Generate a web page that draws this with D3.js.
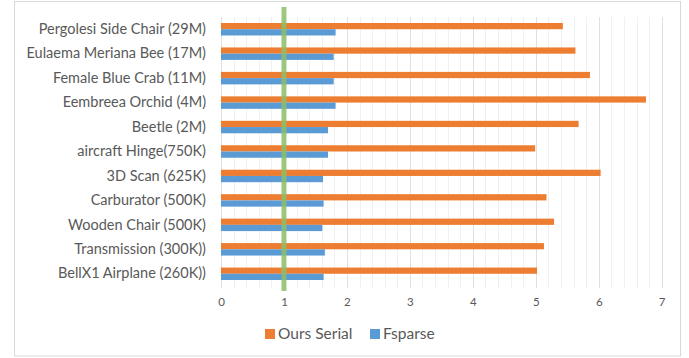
<!DOCTYPE html>
<html>
<head>
<meta charset="utf-8">
<script src="https://cdn.jsdelivr.net/npm/d3@7/dist/d3.min.js"></script>
<style>
  html, body { margin: 0; padding: 0; background: #fff; }
  svg { display: block; }
</style>
</head>
<body>
<svg id="chart" width="689" height="358"></svg>
<script>
// Models, top to bottom
const categories = [
  "Pergolesi Side Chair (29M)",
  "Eulaema Meriana Bee (17M)",
  "Female Blue Crab (11M)",
  "Eembreea Orchid (4M)",
  "Beetle (2M)",
  "aircraft Hinge(750K)",
  "3D Scan (625K)",
  "Carburator (500K)",
  "Wooden Chair (500K)",
  "Transmission (300K))",
  "BellX1 Airplane (260K))"
];
const seriesNames = ["Ours Serial", "Fsparse"];
const oursSerial = [5.43, 5.63, 5.86, 6.75, 5.68, 4.99, 6.03, 5.17, 5.29, 5.13, 5.02];
const fsparse    = [1.82, 1.79, 1.79, 1.82, 1.70, 1.70, 1.62, 1.63, 1.61, 1.65, 1.63];
const xTicks = [0, 1, 2, 3, 4, 5, 6, 7];
const baseline = 1;

const colors = { "Ours Serial": "#ED7D31", "Fsparse": "#5B9BD5" };
const textColor = "#595959";
const font = "Lato, 'Open Sans', sans-serif";

const svg = d3.select("#chart");

// chart frame
svg.append("rect")
  .attr("x", 14.5).attr("y", 1.5)
  .attr("width", 666).attr("height", 354.5)
  .attr("fill", "#fff").attr("stroke", "#d9d9d9").attr("stroke-width", 1);

const plot = { left: 221, right: 661.7, top: 17, bottom: 286 };

const x = d3.scaleLinear().domain([0, 7]).range([plot.left, plot.right]);
const y = d3.scaleBand().domain(categories)
  .range([plot.top, plot.bottom])
  .paddingInner(0.49).paddingOuter(0.245);
const ySub = d3.scaleBand().domain(seriesNames).range([0, y.bandwidth()]);

// minor gridlines
const minor = d3.range(0, 7.0001, 0.2).filter(v => Math.abs(v - Math.round(v)) > 1e-6);
svg.append("g").selectAll("line").data(minor).join("line")
  .attr("x1", d => Math.round(x(d)) + 0.5).attr("x2", d => Math.round(x(d)) + 0.5)
  .attr("y1", plot.top).attr("y2", plot.bottom + 2)
  .attr("stroke", "#f0f0f0").attr("stroke-width", 1);

// major gridlines
svg.append("g").selectAll("line").data(xTicks).join("line")
  .attr("x1", d => Math.round(x(d)) + 0.5).attr("x2", d => Math.round(x(d)) + 0.5)
  .attr("y1", plot.top).attr("y2", plot.bottom + 2)
  .attr("stroke", "#e0e0e0").attr("stroke-width", 1);

// bars
const rows = categories.map((c, i) => ({ c, vals: [
  { s: "Ours Serial", v: oursSerial[i] },
  { s: "Fsparse", v: fsparse[i] }
]}));
const g = svg.append("g").selectAll("g").data(rows).join("g")
  .attr("transform", d => `translate(0,${y(d.c)})`);
g.selectAll("rect").data(d => d.vals).join("rect")
  .attr("x", x(0))
  .attr("y", d => ySub(d.s))
  .attr("width", d => x(d.v) - x(0))
  .attr("height", ySub.bandwidth())
  .attr("fill", d => colors[d.s]);

// x axis
const xAxis = svg.append("g")
  .attr("transform", `translate(0,${plot.bottom})`)
  .call(d3.axisBottom(x).tickValues(xTicks).tickFormat(d3.format("d")).tickSize(0).tickPadding(12));
xAxis.select(".domain").remove();
xAxis.selectAll("text").attr("fill", textColor).style("font-family", font).style("font-size", "11.5px");

// y axis
const yAxis = svg.append("g")
  .attr("transform", `translate(${plot.left},0)`)
  .call(d3.axisLeft(y).tickSize(0).tickPadding(15));
yAxis.select(".domain").remove();
yAxis.selectAll("text").attr("fill", textColor).style("font-family", font).style("font-size", "14.5px");

// reference line at speed-up 1
svg.append("line")
  .attr("x1", x(baseline)).attr("x2", x(baseline))
  .attr("y1", 7).attr("y2", 291)
  .attr("stroke", "#8DBE69").attr("stroke-opacity", 0.85).attr("stroke-width", 5);

// legend
const legend = svg.append("g");
const legendItems = [
  { s: "Ours Serial", x: 265 },
  { s: "Fsparse", x: 370 }
];
legendItems.forEach(it => {
  legend.append("rect").attr("x", it.x).attr("y", 329)
    .attr("width", 10).attr("height", 10).attr("fill", colors[it.s]);
  legend.append("text").attr("x", it.x + 13).attr("y", 334)
    .attr("dy", "0.35em")
    .attr("fill", textColor).style("font-family", font).style("font-size", "15.5px")
    .text(it.s);
});
</script>
</body>
</html>
